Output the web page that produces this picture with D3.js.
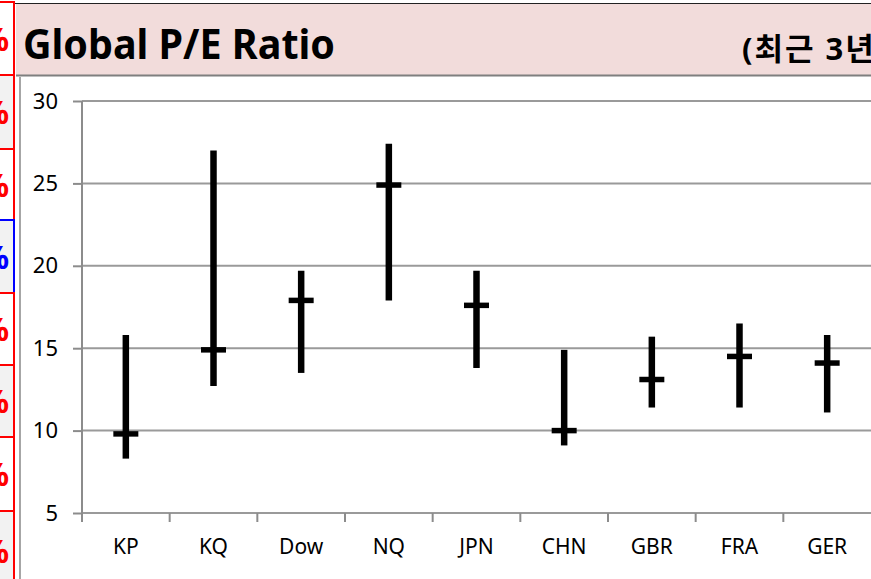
<!DOCTYPE html>
<html>
<head>
<meta charset="utf-8">
<script src="https://cdn.jsdelivr.net/npm/d3@7"></script>
<style>
	html, body { margin: 0; padding: 0; background: #fff; overflow: hidden; }
	svg { display: block; }
	text { font-family: "Noto Sans", "Noto Sans CJK KR", sans-serif; }
</style>
</head>
<body>
<div id="chart"></div>
<script>
const width = 871;
const height = 579;

// P/E range per market (last 3 years): low, high, current
const markets = ["KP", "KQ", "Dow", "NQ", "JPN", "CHN", "GBR", "FRA", "GER"];
const peLow = [8.3, 12.7, 13.5, 17.9, 13.8, 9.1, 11.4, 11.4, 11.1];
const peHigh = [15.8, 27.0, 19.7, 27.4, 19.7, 14.9, 15.7, 16.5, 15.8];
const peNow = [9.8, 14.9, 17.9, 24.9, 17.6, 10.0, 13.1, 14.5, 14.1];
const yTicks = [5, 10, 15, 20, 25, 30];

// cells of the sheet peeking in on the left
const sideCells = [
	{ y0: 2, y1: 75, color: "#ff0000", fill: "#ffffff" },
	{ y0: 75, y1: 149, color: "#ff0000", fill: "#f2f2f2" },
	{ y0: 149, y1: 220, color: "#ff0000", fill: "#ffffff" },
	{ y0: 220, y1: 293, color: "#0000ff", fill: "#f2f2f2" },
	{ y0: 293, y1: 365, color: "#ff0000", fill: "#ffffff" },
	{ y0: 365, y1: 437, color: "#ff0000", fill: "#f2f2f2" },
	{ y0: 437, y1: 511, color: "#ff0000", fill: "#ffffff" },
	{ y0: 511, y1: 590, color: "#ff0000", fill: "#f2f2f2" },
];

const svg = d3
	.select("#chart")
	.append("svg")
	.attr("width", width)
	.attr("height", height);

// left strip
const cells = svg.append("g");
cells
	.selectAll("rect")
	.data(sideCells)
	.join("rect")
	.attr("x", -10)
	.attr("y", d => d.y0)
	.attr("width", 24)
	.attr("height", d => d.y1 - d.y0)
	.attr("fill", d => d.fill)
	.attr("stroke", d => d.color)
	.attr("stroke-width", 2);
cells
	.selectAll("text")
	.data(sideCells)
	.join("text")
	.attr("x", 9)
	.attr("y", d => (d.y0 + d.y1) / 2 + 12)
	.attr("text-anchor", "end")
	.attr("font-size", 32)
	.attr("font-weight", "bold")
	.attr("fill", d => d.color)
	.text("%");

// title band
svg.append("rect")
	.attr("x", 16)
	.attr("y", 3)
	.attr("width", width)
	.attr("height", 72)
	.attr("fill", "#f2dcdb");
svg.append("line")
	.attr("x1", 15).attr("x2", width)
	.attr("y1", 3.5).attr("y2", 3.5)
	.attr("stroke", "#222")
	.attr("stroke-width", 1);
svg.append("line")
	.attr("x1", 16).attr("x2", width)
	.attr("y1", 75.5).attr("y2", 75.5)
	.attr("stroke", "#7f7f7f")
	.attr("stroke-width", 2);

svg.append("text")
	.attr("x", 23)
	.attr("y", 59)
	.attr("font-size", 41)
	.attr("font-weight", "bold")
	.attr("fill", "#000")
	.attr("textLength", 312)
	.attr("lengthAdjust", "spacingAndGlyphs")
	.text("Global P/E Ratio");

svg.append("text")
	.attr("x", 742)
	.attr("y", 60)
	.attr("font-size", 31)
	.attr("font-weight", "bold")
	.attr("letter-spacing", 2)
	.attr("fill", "#000")
	.text("(최근 3년)");

// plot frame
svg.append("line")
	.attr("x1", 20).attr("x2", 20)
	.attr("y1", 77).attr("y2", height)
	.attr("stroke", "#a6a6a6")
	.attr("stroke-width", 2);

const x = d3.scaleBand().domain(markets).range([82, 871]);
const y = d3.scaleLinear().domain([5, 30]).range([513, 101]);

// gridlines + y labels
const yAxis = svg
	.append("g")
	.attr("transform", "translate(82,0)")
	.call(
		d3.axisLeft(y)
			.tickValues(yTicks)
			.tickSize(9)
			.tickPadding(15)
	);
yAxis.select(".domain").remove();
yAxis.selectAll(".tick line").attr("stroke", "#8c8c8c").attr("stroke-width", 2);
yAxis.selectAll(".tick text")
	.attr("font-size", 22)
	.attr("fill", "#000")
	.style("font-family", "\"Noto Sans\", sans-serif");

svg.append("g")
	.selectAll("line")
	.data(yTicks)
	.join("line")
	.attr("x1", 82)
	.attr("x2", width)
	.attr("y1", d => y(d))
	.attr("y2", d => y(d))
	.attr("stroke", "#9a9a9a")
	.attr("stroke-width", 2);

svg.append("line")
	.attr("x1", 82).attr("x2", 82)
	.attr("y1", 101).attr("y2", 521)
	.attr("stroke", "#8c8c8c")
	.attr("stroke-width", 2);

// x axis ticks and labels
const xAxis = svg
	.append("g")
	.attr("transform", "translate(0,513)")
	.call(d3.axisBottom(x).tickSize(0).tickPadding(26));
xAxis.select(".domain").remove();
xAxis.selectAll(".tick text")
	.attr("font-size", 21)
	.attr("fill", "#000")
	.style("font-family", "\"Noto Sans\", sans-serif");

svg.append("g")
	.selectAll("line")
	.data(markets)
	.join("line")
	.attr("x1", d => x(d))
	.attr("x2", d => x(d))
	.attr("y1", 513)
	.attr("y2", 522)
	.attr("stroke", "#8c8c8c")
	.attr("stroke-width", 2);

// high-low bars with current marker
const bars = svg
	.append("g")
	.selectAll("g")
	.data(markets.map((m, i) => ({ m, lo: peLow[i], hi: peHigh[i], now: peNow[i] })))
	.join("g")
	.attr("transform", d => `translate(${x(d.m) + x.bandwidth() / 2},0)`);

bars.append("line")
	.attr("y1", d => y(d.lo))
	.attr("y2", d => y(d.hi))
	.attr("stroke", "#000")
	.attr("stroke-width", 6.5);

bars.append("line")
	.attr("x1", -12.5)
	.attr("x2", 12.5)
	.attr("y1", d => y(d.now))
	.attr("y2", d => y(d.now))
	.attr("stroke", "#000")
	.attr("stroke-width", 5.5);
</script>
</body>
</html>
